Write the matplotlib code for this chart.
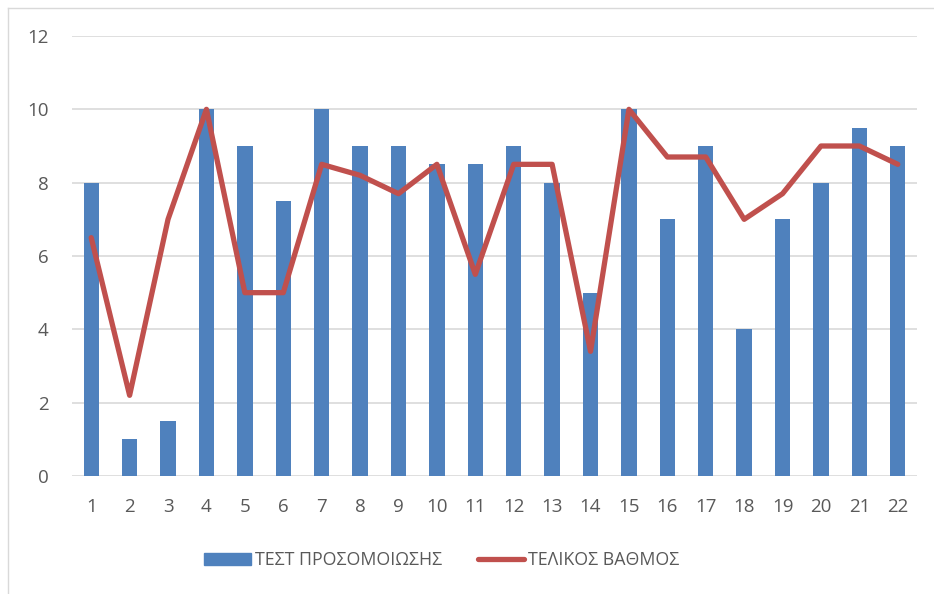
import matplotlib
matplotlib.use("Agg")
import matplotlib.pyplot as plt
from matplotlib.patches import Rectangle
from matplotlib.lines import Line2D
import numpy as np

categories = [str(i) for i in range(1, 23)]
test_scores = [8, 1, 1.5, 10, 9, 7.5, 10, 9, 9, 8.5, 8.5, 9, 8, 5, 10, 7, 9, 4, 7, 8, 9.5, 9]
final_grades = [6.5, 2.2, 7, 10, 5, 5, 8.5, 8.2, 7.7, 8.5, 5.5, 8.5, 8.5, 3.4, 10, 8.7, 8.7, 7, 7.7, 9, 9, 8.5]
yticks = [0, 2, 4, 6, 8, 10, 12]
labels = ["ΤΕΣΤ ΠΡΟΣΟΜΟΙΩΣΗΣ", "ΤΕΛΙΚΟΣ ΒΑΘΜΟΣ"]

plt.rcParams['font.family'] = ['Open Sans', 'DejaVu Sans']
text_color = '#595959'

fig = plt.figure(figsize=(9.34, 5.94), dpi=100)
W, H = 934, 594
ax = fig.add_axes([72 / W, 1 - 476 / H, (917 - 72) / W, (476 - 36) / H])

x = np.arange(len(categories))
ax.bar(x, test_scores, width=0.4, color='#4f81bd', zorder=2, label=labels[0])
ax.plot(x, final_grades, color='#c0504d', linewidth=3.8, solid_capstyle='round',
        solid_joinstyle='round', zorder=3, label=labels[1])

ax.set_xlim(-0.5, len(categories) - 0.5)
ax.set_ylim(0, 12)
ax.set_yticks(yticks)
ax.set_xticks(x)
ax.set_xticklabels(categories)
ax.grid(axis='y', color='#d9d9d9', linewidth=1.2, zorder=0)
ax.set_axisbelow(True)
for s in ax.spines.values():
    s.set_visible(False)
ax.tick_params(axis='both', length=0, colors=text_color, labelsize=13.5)
ax.tick_params(axis='y', pad=17)
ax.tick_params(axis='x', pad=16)

handles = [Rectangle((0, 0), 1, 1, color='#4f81bd'),
           Line2D([0], [0], color='#c0504d', linewidth=3.8, solid_capstyle='round')]
leg = fig.legend(handles, labels, loc='center', bbox_to_anchor=(442 / W, 1 - 560 / H),
                 ncol=2, frameon=False, fontsize=12.8, handlelength=2.6,
                 handletextpad=0.25, columnspacing=2.0)
for t in leg.get_texts():
    t.set_color(text_color)

# chart-area border (left and top edges visible)
fig.add_artist(Line2D([7.5 / W, 7.5 / W], [0, 1 - 7.5 / H], transform=fig.transFigure,
                      color='#d9d9d9', linewidth=1))
fig.add_artist(Line2D([7.5 / W, 1], [1 - 7.5 / H, 1 - 7.5 / H], transform=fig.transFigure,
                      color='#d9d9d9', linewidth=1))

fig.savefig('out.png', dpi=100)
